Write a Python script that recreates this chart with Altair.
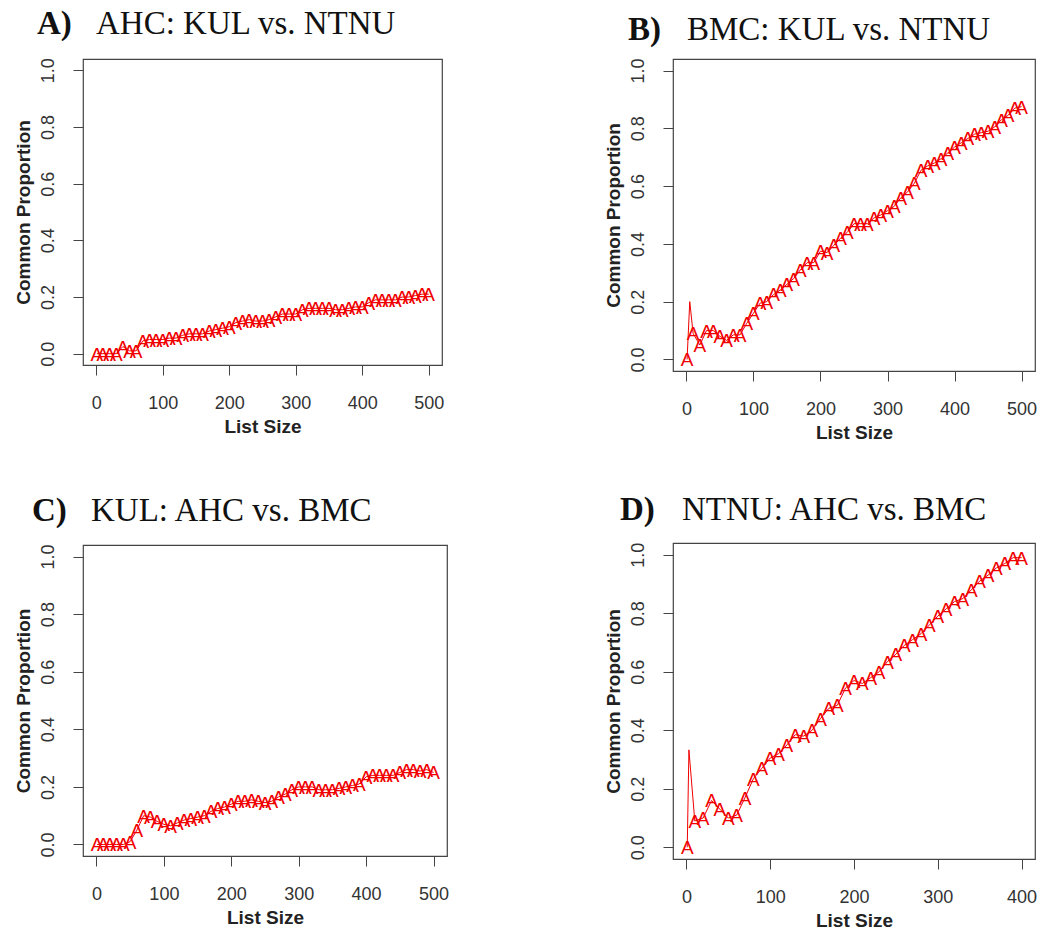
import altair as alt
import pandas as pd

# ---------------- data ----------------
x_500 = [1, 10, 20, 30, 40, 50, 60, 70, 80, 90, 100, 110, 120, 130, 140, 150, 160, 170, 180, 190,
         200, 210, 220, 230, 240, 250, 260, 270, 280, 290, 300, 310, 320, 330, 340, 350, 360, 370,
         380, 390, 400, 410, 420, 430, 440, 450, 460, 470, 480, 490, 500]
x_400 = x_500[:41]

y_ahc = [0.0, 0.0, 0.0, 0.0, 0.025, 0.01, 0.01, 0.045, 0.05, 0.05, 0.05, 0.055, 0.055, 0.065, 0.07,
         0.07, 0.07, 0.08, 0.085, 0.09, 0.095, 0.11, 0.115, 0.12, 0.115, 0.115, 0.12, 0.13, 0.14,
         0.14, 0.14, 0.155, 0.16, 0.16, 0.16, 0.16, 0.155, 0.155, 0.16, 0.165, 0.165, 0.18, 0.19,
         0.19, 0.19, 0.19, 0.2, 0.2, 0.205, 0.21, 0.21]
y_bmc = [0.0, 0.09, 0.05, 0.1, 0.1, 0.08, 0.066, 0.085, 0.085, 0.125, 0.16, 0.195, 0.2, 0.225, 0.24,
         0.26, 0.28, 0.31, 0.335, 0.335, 0.375, 0.37, 0.395, 0.42, 0.44, 0.47, 0.47, 0.47, 0.49,
         0.5, 0.515, 0.53, 0.56, 0.58, 0.61, 0.655, 0.67, 0.68, 0.695, 0.715, 0.735, 0.75, 0.765,
         0.78, 0.785, 0.79, 0.805, 0.83, 0.845, 0.87, 0.875]
y_kul = [0.0, 0.0, 0.0, 0.0, 0.0, 0.01, 0.05, 0.1, 0.095, 0.08, 0.07, 0.065, 0.075, 0.085, 0.09,
         0.095, 0.1, 0.115, 0.125, 0.13, 0.14, 0.15, 0.15, 0.155, 0.15, 0.145, 0.15, 0.165, 0.175,
         0.19, 0.2, 0.2, 0.2, 0.19, 0.19, 0.19, 0.195, 0.2, 0.205, 0.21, 0.235, 0.24, 0.24, 0.24,
         0.24, 0.25, 0.26, 0.26, 0.255, 0.26, 0.25]
y_ntnu = [0.0, 0.09, 0.1, 0.16, 0.13, 0.1, 0.11, 0.17, 0.235, 0.27, 0.305, 0.32, 0.35, 0.385, 0.38,
          0.4, 0.44, 0.475, 0.485, 0.545, 0.57, 0.56, 0.58, 0.6, 0.635, 0.66, 0.69, 0.71, 0.73,
          0.76, 0.79, 0.815, 0.84, 0.85, 0.88, 0.91, 0.93, 0.955, 0.97, 0.99, 0.99]

# unmarked line-only points (early spikes)
spike_bmc = (5, 0.2)
spike_ntnu = (3, 0.333)

letters = ["A)", "B)", "C)", "D)"]
titles = ["AHC: KUL vs. NTNU", "BMC: KUL vs. NTNU", "KUL: AHC vs. BMC", "NTNU: AHC vs. BMC"]
x_ticks_500 = [0, 100, 200, 300, 400, 500]
x_ticks_400 = [0, 100, 200, 300, 400]
y_ticks = [0.0, 0.2, 0.4, 0.6, 0.8, 1.0]

RED = "#f00000"


def make_df(xs, ys, spike=None):
    df = pd.DataFrame({"x": xs, "y": ys, "marker": True})
    if spike is not None:
        extra = pd.DataFrame({"x": [spike[0]], "y": [spike[1]], "marker": [False]})
        df = pd.concat([df, extra]).sort_values("x").reset_index(drop=True)
    return df


def panel(df, letter, title, xdomain, xticks, w, h, tdy, letter_dx, title_dx):
    xs = alt.Scale(domain=xdomain, nice=False, zero=False)
    ys = alt.Scale(domain=[-0.04, 1.04], nice=False, zero=False)
    xaxis = alt.Axis(values=xticks, format="d", title="List Size", grid=False,
                     labelBaseline="alphabetic", labelPadding=33,
                     titleX=w / 2, titleY=67, titleAlign="center", titleBaseline="alphabetic")
    yaxis = alt.Axis(values=y_ticks, format=".1f", title="Common Proportion", grid=False,
                     labelAngle=270, labelAlign="center", labelBaseline="alphabetic",
                     labelPadding=20,
                     titleX=-54, titleY=h / 2, titleAngle=270, titleAlign="center",
                     titleBaseline="alphabetic")
    line = alt.Chart(df).mark_line(color=RED, strokeWidth=1).encode(
        x=alt.X("x:Q", scale=xs, axis=xaxis),
        y=alt.Y("y:Q", scale=ys, axis=yaxis),
        order="x:Q",
    )
    marks = alt.Chart(df).transform_filter("datum.marker").mark_text(
        color=RED, font="Liberation Sans", fontSize=19, align="center", baseline="middle", dy=1
    ).encode(x="x:Q", y="y:Q", text=alt.value("A"))
    lab = pd.DataFrame({"letter": [letter], "title": [title]})
    t1 = alt.Chart(lab).mark_text(
        font="Liberation Serif", fontSize=33, fontWeight="bold", align="left",
        baseline="alphabetic", color="#111"
    ).encode(x=alt.value(letter_dx), y=alt.value(tdy), text="letter:N")
    t2 = alt.Chart(lab).mark_text(
        font="Liberation Serif", fontSize=33, fontWeight="normal", align="left",
        baseline="alphabetic", color="#111"
    ).encode(x=alt.value(title_dx), y=alt.value(tdy), text="title:N")
    return alt.layer(line, marks, t1, t2).properties(width=w, height=h)


pA = panel(make_df(x_500, y_ahc), letters[0], titles[0], [-20, 520], x_ticks_500, 359, 306, -25, -46, 13)
pB = panel(make_df(x_500, y_bmc, spike_bmc), letters[1], titles[1], [-20, 520], x_ticks_500, 362, 312, -19, -45, 14)
pC = panel(make_df(x_500, y_kul), letters[2], titles[2], [-20, 520], x_ticks_500, 364, 311, -24, -51, 8)
pD = panel(make_df(x_400, y_ntnu, spike_ntnu), letters[3], titles[3], [-16, 416], x_ticks_400, 362, 316, -23, -53, 9)

col1 = alt.vconcat(pA, pC, spacing=180, bounds="flush")
col2 = alt.vconcat(pB, pD, spacing=172, bounds="flush")

chart = alt.hconcat(col1, col2, spacing=153).properties(
    padding={"left": 13, "top": 7, "right": 0, "bottom": 0},
    background="white",
).configure_view(
    stroke="#444", strokeWidth=1.2
).configure_axis(
    grid=False, domain=False, tickColor="#444", tickSize=10, tickWidth=1,
    labelFont="Liberation Sans", labelFontSize=18, labelColor="#333",
    titleFont="Liberation Sans", titleFontSize=19, titleFontWeight="bold", titleColor="#222",
)

chart.save("out.html", embed_options={"renderer": "svg", "actions": False})
